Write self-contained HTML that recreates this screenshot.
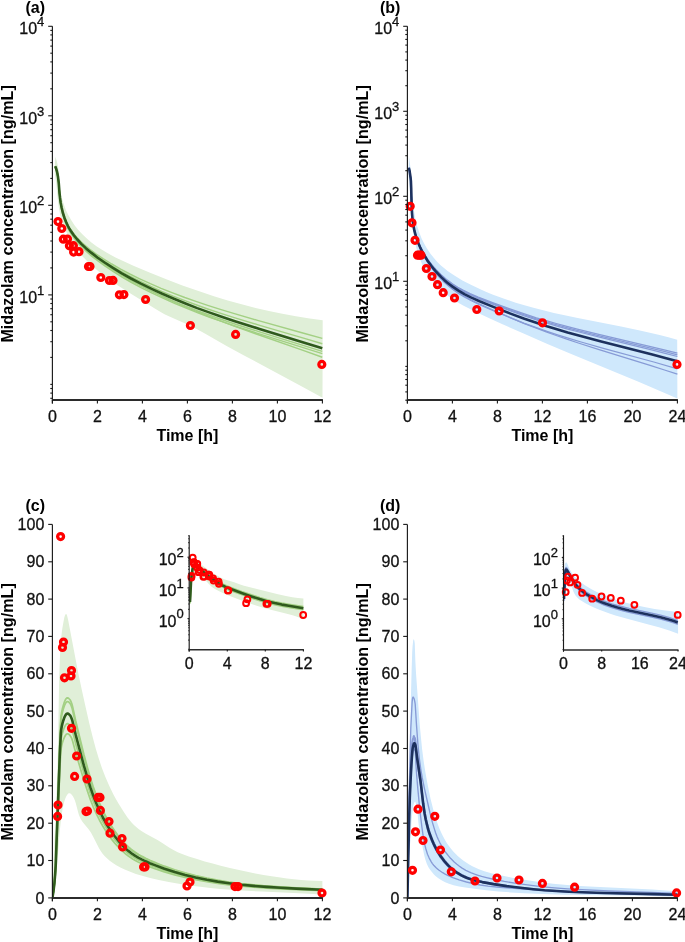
<!DOCTYPE html><html><head><meta charset="utf-8"><style>html,body{margin:0;padding:0;background:#fff;overflow:hidden}svg{display:block;will-change:transform}</style></head><body><svg width="685" height="942" viewBox="0 0 685 942" font-family="'Liberation Sans', sans-serif">
<rect width="685" height="942" fill="#fff"/>
<defs>
<clipPath id="cA"><rect x="52.4" y="6.3" width="272" height="393.7"/></clipPath>
<clipPath id="cB"><rect x="407.4" y="6.3" width="272" height="393.7"/></clipPath>
<clipPath id="cC"><rect x="52.4" y="504.4" width="272" height="393.5"/></clipPath>
<clipPath id="cD"><rect x="407.4" y="504.4" width="272" height="393.5"/></clipPath>
<clipPath id="cCI"><rect x="189.2" y="515.3" width="116.2" height="134.5"/></clipPath>
<clipPath id="cDI"><rect x="563.5" y="515.3" width="116.5" height="134.6"/></clipPath>
</defs>
<g clip-path="url(#cA)">
<path d="M55.1 156.8L56.1 159.1L56.9 161.5L57.5 164L58 166.5L58.6 171.5L59.2 181.8L59.6 186.1L60.2 190.4L61.2 195.5L62.6 200.6L64.2 205.6L66.1 210.4L68.3 215.1L71.3 220.3L74.5 225.2L78.1 229.8L82.1 234.1L86.3 238.1L91.4 242.4L96.8 246.4L103.2 250.6L106.9 252.7L111.4 255.3L116 257.7L121.5 260.3L133.4 265.7L149.5 272.5L166.3 279.3L182.4 285.4L198.5 291.1L213.9 296.2L227.7 300.4L241.6 304.3L255.6 307.9L268.9 311L282.4 313.8L295.9 316.3L309.7 318.5L322.7 320.2L322.5 397.8L301.4 386.3L243.6 355.2L226.6 345.9L205.7 334L197.6 329.6L191.9 326.7L186.9 324.2L168.3 316L165 314.4L161 312.2L154.8 308.5L131.3 294L118.7 286L112.5 281.8L107.2 278L102 274.2L97 270.1L91.4 265.3L86.8 260.8L82.4 256.2L78.3 251.3L74.5 246.1L70.9 240.7L67.8 235.1L65.4 230.1L63.3 225L61.8 220.6L60.5 216.2L59.4 210.7L58.6 206.2L58 201.6L56.1 182.2L55.4 177.6L54.8 174 Z" fill="#e0efd8" />
<path d="M55.2 166L56 167.8L56.8 170.4L57.4 173L58 176.3L58.7 181.7L59.5 192.1L60 197L60.7 201.9L61.6 206.8L62.8 211.5L64.2 216.1L65.9 220.6L67.6 224.2L68.9 226.6L70.3 228.9L73.4 233.2L76.8 237.4L81 241.8L85.6 245.9L90.9 250.2L96.5 254.3L103.4 258.9L111.7 264L120.6 269.1L129.8 274L139.7 278.8L150.3 283.7L161.1 288.3L172.6 292.9L184.8 297.5L195.9 301.4L207.7 305.4L220.3 309.4L233.6 313.4L257.6 320.4L303.7 333.2L322.3 338.4" fill="none" stroke="#a3d084" stroke-width="1.45" stroke-linejoin="round" />
<path d="M55.2 166.1L56 168L56.8 170.6L57.4 173.2L58 176.6L58.7 182L59.5 192.5L60 197.4L60.7 202.3L61.6 207.2L62.8 212L64.2 216.6L65.9 221.1L67.6 224.9L68.9 227.3L70.3 229.6L73.4 234L76.8 238.3L81 242.8L85.6 247L90.9 251.4L97.1 256.1L104 260.8L112.3 266.1L121.2 271.4L130.4 276.4L140.3 281.4L150.9 286.5L161.7 291.3L173.2 296.1L185.5 300.9L196.6 305L208.4 309.2L220.9 313.4L234.2 317.6L258.9 325.1L304.4 338.4L322.3 343.8" fill="none" stroke="#a3d084" stroke-width="1.45" stroke-linejoin="round" />
<path d="M55.2 167.1L56 169L56.8 171.7L57.4 174.4L58 177.8L58.7 183.3L59.5 193.8L60 198.8L60.7 203.8L61.6 208.7L62.9 214.2L64.4 219L66.2 223.5L67.9 227.3L69.2 229.8L70.7 232.1L73.8 236.7L77.3 241.1L81.5 245.7L86.1 250.1L91.5 254.7L97.7 259.5L104.6 264.5L112.9 269.9L121.8 275.4L131 280.7L140.9 285.9L151.6 291.2L162.3 296.2L173.9 301.3L186.1 306.3L197.2 310.7L209.1 315L221.6 319.5L235.6 324.2L260.3 332.1L322.3 351.4" fill="none" stroke="#a3d084" stroke-width="1.45" stroke-linejoin="round" />
<path d="M55.2 167.6L56 169.7L56.8 172.4L57.4 175.1L58 178.5L58.7 184L59.5 194.6L60 199.6L60.7 204.5L61.6 209.5L62.9 215.1L64.4 219.8L66.2 224.5L67.9 228.3L69.2 230.7L70.7 233.1L73.8 237.8L75.5 240L77.7 242.7L82 247.3L86.6 251.7L92 256.4L98.3 261.2L105.2 266.2L113.4 271.7L122.5 277.3L131.6 282.5L141.5 287.8L152.2 293.2L163 298.2L174.5 303.3L186.8 308.4L197.9 312.8L209.7 317.2L222.3 321.6L235.6 326.2L260.9 334.4L322.3 353.6" fill="none" stroke="#a3d084" stroke-width="1.45" stroke-linejoin="round" />
<path d="M55.2 166.3L56 168.2L56.8 170.8L57.4 173.5L58 176.9L58.7 182.4L59.5 192.8L60 197.8L60.7 202.7L61.6 207.6L62.8 212.5L64.2 217.2L65.9 221.8L67.6 225.5L69.9 229.8L73 234.4L76.4 238.8L80.5 243.5L85.1 247.9L90.4 252.6L96 257.1L102.9 262.2L111.1 267.9L119.4 273.2L128.5 278.7L138.4 284.2L149 289.8L159.8 295.2L171.3 300.6L183.5 306L194.6 310.7L206.4 315.5L219 320.4L232.2 325.4L255.6 333.8L302.4 350.1L322.3 357.2" fill="none" stroke="#a3d084" stroke-width="1.45" stroke-linejoin="round" />
<path d="M55.2 166.3L56 168.2L56.8 170.8L57.4 173.5L58 176.8L58.7 182.3L59.5 192.8L60 197.7L60.7 202.7L61.6 207.5L62.9 213L64.4 217.7L66.2 222.3L67.9 226L69.2 228.4L70.7 230.7L73.8 235.2L77.3 239.5L81.5 244.1L86.1 248.4L91.5 252.9L97.7 257.7L104.6 262.5L112.9 267.9L121.8 273.4L131 278.5L140.9 283.7L151.6 288.9L162.3 293.8L173.9 298.8L186.1 303.8L197.2 308.1L209.1 312.4L221.6 316.7L234.9 321.2L259.6 329L305.1 342.9L322.3 348.3" fill="none" stroke="#2f5a1d" stroke-width="2.6" stroke-linejoin="round" />
</g>
<g fill="none" stroke="#ff0000" stroke-width="3.3">
<circle cx="58" cy="221.6" r="2.95"/>
<circle cx="61.8" cy="228.5" r="2.95"/>
<circle cx="63.3" cy="239.2" r="2.95"/>
<circle cx="67.5" cy="239" r="2.95"/>
<circle cx="69.4" cy="245.8" r="2.95"/>
<circle cx="73.4" cy="245.7" r="2.95"/>
<circle cx="73.6" cy="252.1" r="2.95"/>
<circle cx="79" cy="251.7" r="2.95"/>
<circle cx="88.5" cy="266.5" r="2.95"/>
<circle cx="90" cy="266.5" r="2.95"/>
<circle cx="100.8" cy="277.5" r="2.95"/>
<circle cx="109.4" cy="280.5" r="2.95"/>
<circle cx="113" cy="280.4" r="2.95"/>
<circle cx="119.4" cy="294.8" r="2.95"/>
<circle cx="123.9" cy="294.6" r="2.95"/>
<circle cx="145.6" cy="299.5" r="2.95"/>
<circle cx="190.4" cy="325.5" r="2.95"/>
<circle cx="235.6" cy="334.4" r="2.95"/>
<circle cx="321.8" cy="364.4" r="2.95"/>
</g>
<g stroke="#1a1a1a" stroke-width="1.1" fill="none">
<path d="M52.4 26.3 V403.4" stroke-width="1.15"/>
<path d="M51.9 400 H322.9" stroke-width="1.95" stroke="#2b2b2b"/>
<path d="M52.4 400 V403.4"/>
<path d="M97.4 400 V403.4"/>
<path d="M142.4 400 V403.4"/>
<path d="M187.4 400 V403.4"/>
<path d="M232.4 400 V403.4"/>
<path d="M277.4 400 V403.4"/>
<path d="M322.4 400 V403.4"/>
<path d="M50.3 398.3 H52.4"/>
<path d="M50.3 393.1 H52.4"/>
<path d="M50.3 388.5 H52.4"/>
<path d="M50.3 384.4 H52.4"/>
<path d="M50.3 357.4 H52.4"/>
<path d="M50.3 341.7 H52.4"/>
<path d="M50.3 330.5 H52.4"/>
<path d="M50.3 321.8 H52.4"/>
<path d="M50.3 314.7 H52.4"/>
<path d="M50.3 308.7 H52.4"/>
<path d="M50.3 303.5 H52.4"/>
<path d="M50.3 299 H52.4"/>
<path d="M48.2 294.9 H52.4"/>
<path d="M50.3 267.9 H52.4"/>
<path d="M50.3 252.1 H52.4"/>
<path d="M50.3 241 H52.4"/>
<path d="M50.3 232.3 H52.4"/>
<path d="M50.3 225.2 H52.4"/>
<path d="M50.3 219.2 H52.4"/>
<path d="M50.3 214 H52.4"/>
<path d="M50.3 209.4 H52.4"/>
<path d="M48.2 205.3 H52.4"/>
<path d="M50.3 178.4 H52.4"/>
<path d="M50.3 162.6 H52.4"/>
<path d="M50.3 151.4 H52.4"/>
<path d="M50.3 142.7 H52.4"/>
<path d="M50.3 135.7 H52.4"/>
<path d="M50.3 129.7 H52.4"/>
<path d="M50.3 124.5 H52.4"/>
<path d="M50.3 119.9 H52.4"/>
<path d="M48.2 115.8 H52.4"/>
<path d="M50.3 88.8 H52.4"/>
<path d="M50.3 73.1 H52.4"/>
<path d="M50.3 61.9 H52.4"/>
<path d="M50.3 53.2 H52.4"/>
<path d="M50.3 46.1 H52.4"/>
<path d="M50.3 40.1 H52.4"/>
<path d="M50.3 34.9 H52.4"/>
<path d="M50.3 30.4 H52.4"/>
<path d="M48.2 26.3 H52.4"/>
</g>
<g fill="#111" stroke="#111" stroke-width="0.3">
<text x="52.4" y="421.6" font-size="16" font-weight="normal" text-anchor="middle" >0</text>
<text x="97.4" y="421.6" font-size="16" font-weight="normal" text-anchor="middle" >2</text>
<text x="142.4" y="421.6" font-size="16" font-weight="normal" text-anchor="middle" >4</text>
<text x="187.4" y="421.6" font-size="16" font-weight="normal" text-anchor="middle" >6</text>
<text x="232.4" y="421.6" font-size="16" font-weight="normal" text-anchor="middle" >8</text>
<text x="277.4" y="421.6" font-size="16" font-weight="normal" text-anchor="middle" >10</text>
<text x="322.4" y="421.6" font-size="16" font-weight="normal" text-anchor="middle" >12</text>
<text x="44.3" y="302.8" font-size="16" text-anchor="end">10<tspan font-size="13" dy="-8.2">1</tspan></text>
<text x="44.3" y="213.3" font-size="16" text-anchor="end">10<tspan font-size="13" dy="-8.2">2</tspan></text>
<text x="44.3" y="123.7" font-size="16" text-anchor="end">10<tspan font-size="13" dy="-8.2">3</tspan></text>
<text x="44.3" y="34.2" font-size="16" text-anchor="end">10<tspan font-size="13" dy="-8.2">4</tspan></text>
</g>
<g clip-path="url(#cB)">
<path d="M408.9 156.1L409.8 162.2L410.5 168.5L411 175.8L412.3 195.2L412.8 200.8L413.4 206.4L414.2 211.9L415.1 217.4L416.3 222.8L417.5 227.2L419.6 233.3L421.6 238.4L424.1 243.4L426.8 248.2L428.8 251.2L430.3 253.5L433.7 257.8L437.3 261.9L441.2 265.7L444 268.1L447.6 270.9L450.6 273.1L454.4 275.6L458.4 278.1L462.4 280.4L471.4 285.1L481.4 289.8L486.4 292L492.4 294.4L503.5 298.6L515.7 302.7L524.5 305.3L533.4 307.8L543.2 310.3L553.9 312.9L564.7 315.3L576.5 317.8L621 326.5L639.9 330.5L649.8 332.7L659.6 335.1L668.4 337.3L677.2 339.8L677.4 398.5L658.8 390.4L638.5 381.8L571.2 353.9L547.4 343.9L523.6 333.6L502.5 324.3L489.3 318.3L477.1 312.5L470.1 309.1L464.1 306L458.3 302.7L453.5 299.7L448.8 296.4L445.1 293.5L440.1 289.1L437.5 286.5L435.5 284.5L433.1 281.6L431.3 279.4L428.1 274.9L425.1 270.1L423.8 267.6L422.1 264.2L419.9 258.9L417.7 252.6L416.1 247L414.6 240.4L413.3 233.6L412.4 226.8L411.8 220.9L411.3 215.1L409.7 188.2L409.2 181.7L408.6 176.3 Z" fill="#cfe8fc" />
<path d="M408.8 167.5L409.4 169.6L410 173.1L410.5 176.7L410.9 180.3L411.2 187.7L411.7 207.8L412.1 213.7L412.6 219.6L413.5 225.3L414.5 230.3L415.9 235.2L417.5 239.9L418.6 242.6L420.1 245.9L421.7 249.2L423.4 252.4L425.3 255.5L427.2 258.5L429.4 261.5L431.6 264.4L435.9 269.4L438.4 272L441 274.6L443.7 277L446.5 279.4L449.4 281.6L452.3 283.7L457.8 287.3L463.5 290.4L470.1 293.6L478.2 297.1L491.9 302.3L509.8 308.9L523.7 313.7L536.4 317.8L546.2 320.7L556.2 323.5L566.8 326.4L578.3 329.4L599.8 334.6L651.6 346.8L665.2 350.1L677.4 353.2" fill="none" stroke="#879bd6" stroke-width="1.25" stroke-linejoin="round" />
<path d="M408.8 167.6L409.4 169.7L410 173.2L410.5 176.8L410.9 180.4L411.2 187.8L411.7 207.9L412.1 213.8L412.6 219.7L413.5 225.5L414.5 230.5L415.9 235.4L417.5 240.2L418.6 242.9L420.1 246.2L421.7 249.5L423.4 252.7L425.3 255.8L427.2 258.9L429.4 261.9L431.6 264.8L435.9 269.8L438.4 272.5L441 275L443.7 277.5L446.5 279.9L449.4 282.1L452.3 284.3L457.8 287.9L463.5 291.1L470.1 294.3L478.2 297.8L491.9 303.1L509.8 309.8L523.7 314.7L536.4 318.8L546.2 321.8L556.2 324.7L566.8 327.6L579 330.8L600.5 336.1L651.6 348.3L665.2 351.7L677.4 354.9" fill="none" stroke="#879bd6" stroke-width="1.25" stroke-linejoin="round" />
<path d="M408.8 167.7L409.4 169.7L410 173.3L410.5 176.9L410.9 180.5L411.2 187.9L411.7 208.1L412.1 214L412.6 219.9L413.5 225.7L414.5 230.7L415.9 235.6L417.5 240.4L418.6 243.1L420.1 246.5L421.7 249.7L423.4 253L425.3 256.1L427.2 259.2L429.4 262.2L431.6 265.1L435.9 270.2L438.4 272.9L441 275.5L443.7 278L446.5 280.4L449.4 282.7L452.3 284.8L457.8 288.4L463.5 291.7L470.1 295L478.2 298.5L491.9 303.9L509.8 310.7L523.7 315.7L536.4 319.8L546.2 322.9L556.2 325.8L566.8 328.8L579 332L600.5 337.4L651.6 349.8L665.2 353.3L677.4 356.5" fill="none" stroke="#879bd6" stroke-width="1.25" stroke-linejoin="round" />
<path d="M408.8 168.2L409.4 170.4L410 174L410.5 177.7L410.9 181.4L411.2 188.9L411.7 209.1L412.1 215.1L412.6 221L413.5 226.9L414.5 232L415.9 237.1L417.5 242.1L420.1 248.4L421.7 251.8L423.4 255.2L425.3 258.5L427.2 261.8L429.4 264.9L431.6 268L433.9 271.1L436.3 274L438.9 276.8L441.5 279.6L444.2 282.2L447.1 284.7L450 287.2L452.9 289.5L458.5 293.4L464.8 297.2L471.4 300.8L479.5 304.7L493.9 311L510.5 317.9L524.4 323.4L537.8 328.2L547.7 331.6L558.3 335.1L569 338.4L581.1 342L603.4 348.3L653.8 362L677.4 368.8" fill="none" stroke="#879bd6" stroke-width="1.25" stroke-linejoin="round" />
<path d="M408.8 167.9L409.4 170L410 173.6L410.5 177.3L410.9 180.9L411.2 188.4L411.7 208.6L412.1 214.5L412.6 220.4L413.5 226.3L414.5 231.4L415.9 236.4L417.5 241.3L420.1 247.5L421.7 250.9L423.4 254.3L425.3 257.5L427.2 260.8L429.4 263.9L431.6 267L435.9 272.3L438.4 275.2L441 277.9L443.7 280.6L446.5 283.2L449.4 285.6L452.3 288L457.8 291.9L463.5 295.5L470.1 299.2L478.2 303.3L491.9 309.5L509.8 317.4L523.7 323.3L536.4 328.2L546.2 331.9L556.2 335.5L566.8 339.2L578.3 343L599.1 349.6L650.9 365.6L664.5 370L677.4 374.2" fill="none" stroke="#879bd6" stroke-width="1.25" stroke-linejoin="round" />
<path d="M408.8 167.9L409.4 170L410 173.6L410.5 177.2L410.9 180.9L411.2 188.3L411.7 208.5L412.1 214.4L412.6 220.3L413.5 226.1L414.5 231.2L415.9 236.2L417.5 241.1L418.6 243.8L420.1 247.2L421.7 250.6L423.4 253.8L425.3 257L427.2 260.2L429.4 263.3L431.6 266.3L433.9 269.2L436.3 272L438.9 274.7L441.5 277.4L444.2 279.9L447.1 282.4L450 284.7L452.9 286.9L458.5 290.6L464.8 294.3L471.4 297.6L479.5 301.2L493.9 307.1L510.5 313.6L524.4 318.8L537.1 323.1L546.9 326.3L556.9 329.3L567.6 332.5L579.7 335.8L601.2 341.5L652.3 354.5L665.2 357.9L677.4 361.2" fill="none" stroke="#1d315e" stroke-width="2.6" stroke-linejoin="round" />
</g>
<g fill="none" stroke="#ff0000" stroke-width="3.3">
<circle cx="410.2" cy="206.3" r="2.95"/>
<circle cx="412" cy="222.8" r="2.95"/>
<circle cx="415" cy="240.3" r="2.95"/>
<circle cx="417.5" cy="255.2" r="2.95"/>
<circle cx="419.3" cy="255.2" r="2.95"/>
<circle cx="421" cy="255.2" r="2.95"/>
<circle cx="426.3" cy="268.5" r="2.95"/>
<circle cx="432" cy="276.5" r="2.95"/>
<circle cx="437.5" cy="284.7" r="2.95"/>
<circle cx="443.2" cy="292.7" r="2.95"/>
<circle cx="454.5" cy="298" r="2.95"/>
<circle cx="476.8" cy="309.5" r="2.95"/>
<circle cx="499.2" cy="311" r="2.95"/>
<circle cx="542.5" cy="322.8" r="2.95"/>
<circle cx="677" cy="364.4" r="2.95"/>
</g>
<g stroke="#1a1a1a" stroke-width="1.1" fill="none">
<path d="M407.4 26.3 V403.4" stroke-width="1.15"/>
<path d="M406.9 400 H677.9" stroke-width="1.95" stroke="#2b2b2b"/>
<path d="M407.4 400 V403.4"/>
<path d="M452.4 400 V403.4"/>
<path d="M497.4 400 V403.4"/>
<path d="M542.4 400 V403.4"/>
<path d="M587.4 400 V403.4"/>
<path d="M632.4 400 V403.4"/>
<path d="M677.4 400 V403.4"/>
<path d="M405.3 400.2 H407.4"/>
<path d="M405.3 391.9 H407.4"/>
<path d="M405.3 385.2 H407.4"/>
<path d="M405.3 379.5 H407.4"/>
<path d="M405.3 374.6 H407.4"/>
<path d="M405.3 370.2 H407.4"/>
<path d="M405.3 366.4 H407.4"/>
<path d="M405.3 340.8 H407.4"/>
<path d="M405.3 325.8 H407.4"/>
<path d="M405.3 315.2 H407.4"/>
<path d="M405.3 306.9 H407.4"/>
<path d="M405.3 300.2 H407.4"/>
<path d="M405.3 294.5 H407.4"/>
<path d="M405.3 289.6 H407.4"/>
<path d="M405.3 285.2 H407.4"/>
<path d="M403.2 281.3 H407.4"/>
<path d="M405.3 255.7 H407.4"/>
<path d="M405.3 240.8 H407.4"/>
<path d="M405.3 230.1 H407.4"/>
<path d="M405.3 221.9 H407.4"/>
<path d="M405.3 215.2 H407.4"/>
<path d="M405.3 209.5 H407.4"/>
<path d="M405.3 204.5 H407.4"/>
<path d="M405.3 200.2 H407.4"/>
<path d="M403.2 196.3 H407.4"/>
<path d="M405.3 170.7 H407.4"/>
<path d="M405.3 155.7 H407.4"/>
<path d="M405.3 145.1 H407.4"/>
<path d="M405.3 136.9 H407.4"/>
<path d="M405.3 130.1 H407.4"/>
<path d="M405.3 124.5 H407.4"/>
<path d="M405.3 119.5 H407.4"/>
<path d="M405.3 115.2 H407.4"/>
<path d="M403.2 111.3 H407.4"/>
<path d="M405.3 85.7 H407.4"/>
<path d="M405.3 70.7 H407.4"/>
<path d="M405.3 60.1 H407.4"/>
<path d="M405.3 51.9 H407.4"/>
<path d="M405.3 45.1 H407.4"/>
<path d="M405.3 39.4 H407.4"/>
<path d="M405.3 34.5 H407.4"/>
<path d="M405.3 30.2 H407.4"/>
<path d="M403.2 26.3 H407.4"/>
</g>
<g fill="#111" stroke="#111" stroke-width="0.3">
<text x="407.4" y="421.6" font-size="16" font-weight="normal" text-anchor="middle" >0</text>
<text x="452.4" y="421.6" font-size="16" font-weight="normal" text-anchor="middle" >4</text>
<text x="497.4" y="421.6" font-size="16" font-weight="normal" text-anchor="middle" >8</text>
<text x="542.4" y="421.6" font-size="16" font-weight="normal" text-anchor="middle" >12</text>
<text x="587.4" y="421.6" font-size="16" font-weight="normal" text-anchor="middle" >16</text>
<text x="632.4" y="421.6" font-size="16" font-weight="normal" text-anchor="middle" >20</text>
<text x="677.4" y="421.6" font-size="16" font-weight="normal" text-anchor="middle" >24</text>
<text x="399.3" y="289.3" font-size="16" text-anchor="end">10<tspan font-size="13" dy="-8.2">1</tspan></text>
<text x="399.3" y="204.2" font-size="16" text-anchor="end">10<tspan font-size="13" dy="-8.2">2</tspan></text>
<text x="399.3" y="119.2" font-size="16" text-anchor="end">10<tspan font-size="13" dy="-8.2">3</tspan></text>
<text x="399.3" y="34.2" font-size="16" text-anchor="end">10<tspan font-size="13" dy="-8.2">4</tspan></text>
</g>
<g clip-path="url(#cC)">
<path d="M52.4 897.9L53.5 864.8L56.4 796.1L57.5 766.5L58.1 740.5L59.1 681.3L59.6 665.8L60 655.1L60.4 648L60.9 641L61.6 634L62.4 628.1L63.4 622.3L64.3 617.5L65.1 615.1L65.6 614.2L66.1 613.9L66.7 614.6L67.1 615.8L68 619.3L74.9 655.4L78 671.7L81.9 690.2L85.7 707.6L89.4 723.8L92.8 737.6L95.6 747.9L98.6 758.1L102 768.2L105.4 777L109.2 785.7L113.3 794.2L115.6 798.4L118.5 803.5L123.5 811.6L127.5 817.5L129.7 820.3L132 822.9L134.5 825.5L137.1 827.8L138.9 829.3L141.8 831.3L145.9 833.8L157.5 840.1L161.5 842.6L169.5 847.7L173.5 850.1L177.7 852.3L182.1 854.1L188.8 856.5L197.9 859.3L204.7 861.4L212.7 863.6L220.7 865.7L229.9 867.9L239.1 870.1L247.2 871.8L255.3 873.4L263.5 874.9L271.7 876.3L278.7 877.3L286.9 878.4L294 879.2L301.1 879.9L308.2 880.4L315.3 880.8L322.4 881L322.4 894.4L304.1 893.5L262.2 891.6L242.6 890.5L231.2 889.7L220.4 888.9L210.3 887.9L200.3 886.8L189.5 885.4L178.8 883.8L168.8 882.1L158.8 880.1L150.2 878.1L143 876.1L135.9 873.9L129.6 871.5L124.7 869.4L120.4 867.4L116.3 865.2L112.9 863.1L109.7 860.7L107.2 858.6L104.8 856.3L102.6 853.7L100.7 850.9L98.9 848L93.2 836.7L90.9 832.5L88.6 829.2L82.8 822.2L81 819.5L79.8 817.1L78.8 814.5L78 811.7L75.8 803.2L74.9 800.5L74.1 798.6L72.9 796.3L72.1 795.3L71.3 794.3L70.4 793.6L69.9 793.3L69.5 793.2L69 793.2L68.2 793.6L67.4 794.4L66.3 796.3L65.3 798.5L64.3 801.4L63.6 804.2L63 806.8L62.4 810.1L60.9 820.6L59.8 830.7L59 840.2L57.3 863.1L56.1 875.2L55.4 881.3L54.5 887.3L53.5 892.6L52.4 897.9 Z" fill="#e0efd8" />
<path d="M52.4 897.9L53.5 890.4L54.4 882.1L55.1 872.9L55.7 862.9L59.8 742.1L60.5 726.2L60.8 719.6L61.2 715.4L61.7 712.1L62.4 708.8L63.3 705.4L64.4 702L65.5 699.6L66.3 698.5L66.7 698.1L67.2 697.9L67.7 697.9L68.3 698.1L68.8 698.5L69.8 699.5L70.3 700.2L71 701.6L71.9 704L72.6 706.7L75.6 720.5L78.3 731.6L83.9 754.5L87.6 768.3L90.4 778L93.2 786.8L96.4 795.4L99.5 803.1L102.9 810.6L106.6 817.9L110.7 824.9L114.8 831.1L119.1 836.9L121.7 840L123.9 842.4L126.1 844.7L128.4 846.9L130.8 849L132.7 850.4L135.3 852.3L138.6 854.4L142.1 856.4L145.6 858.2L149.8 860.2L154.2 862.1L159.3 864.2L164.4 866.2L174.7 869.8L185.1 872.9L195.6 875.7L206.9 878.2L217.6 880.2L229 882L241.3 883.6L253.6 884.9L266.8 886L280.7 886.9L296.2 887.8L322.4 889.1" fill="none" stroke="#a3d084" stroke-width="1.75" stroke-linejoin="round" />
<path d="M52.4 897.9L53.5 890.6L54.4 882.4L55.1 873.4L55.7 863.5L59.8 745L60.5 729.4L60.8 722.9L61.2 718.8L61.7 715.5L62.4 712.2L63.3 708.9L64.4 705.6L65.5 703.3L66.3 702.2L66.7 701.8L67.2 701.6L67.7 701.6L68.3 701.8L68.8 702.1L69.8 703.2L70.3 703.8L71 705.2L71.9 707.6L72.6 710.2L75.6 723.7L78.3 734.6L83.9 757.1L87.6 770.7L90.4 780.2L93.2 788.9L96.4 797.3L99.5 804.9L102.9 812.2L106.6 819.4L110.7 826.3L114.8 832.3L119.1 838L121.7 841.1L123.9 843.5L126.1 845.7L128.4 847.9L130.8 849.9L132.7 851.3L135.3 853.1L138.6 855.2L142.1 857.1L145.6 858.9L149.8 860.9L154.2 862.8L159.3 864.8L164.4 866.8L174.7 870.3L185.1 873.4L195.6 876.1L206.9 878.6L217.6 880.5L229 882.3L241.3 883.9L253.6 885.1L266.8 886.2L280.7 887.1L296.2 888L322.4 889.2" fill="none" stroke="#a3d084" stroke-width="1.75" stroke-linejoin="round" />
<path d="M52.4 897.9L53.5 891.4L54.4 884.1L55.1 876.1L55.7 867.4L59.8 762.2L60.5 748.4L60.8 742.6L61.2 739L61.7 736.1L62.4 733.2L63.3 730.2L64.4 727.3L65.5 725.2L66.3 724.2L66.7 723.9L67.2 723.7L67.7 723.7L68.3 723.9L68.8 724.2L69.8 725.1L70.3 725.7L71 726.9L71.9 729L72.6 731.4L75.6 743.4L78.3 753L83.9 773L87.6 785L90.4 793.5L93.2 801.1L96.4 808.7L99.5 815.3L102.9 821.9L106.6 828.2L110.7 834.4L114.8 839.7L119.1 844.8L121.7 847.5L123.9 849.6L126.1 851.6L128.4 853.5L132.7 856.6L135.3 858.2L138.6 860L142.1 861.7L145.6 863.3L149.8 865.1L154.2 866.7L164.4 870.3L174.7 873.4L185.1 876.2L195.6 878.5L206.9 880.7L217.6 882.5L229 884.1L241.3 885.4L253.6 886.6L266.8 887.5L280.7 888.4L322.4 890.2" fill="none" stroke="#a3d084" stroke-width="1.75" stroke-linejoin="round" />
<path d="M52.4 897.9L53.5 891.8L54.4 884.9L55.1 877.4L55.7 869.2L59.8 770.1L60.5 757.1L60.8 751.6L61.2 748.2L61.7 745.5L62.4 742.7L63.3 740L64.4 737.2L65.5 735.3L66.3 734.3L66.7 734L67.2 733.9L67.7 733.8L68.3 734L68.8 734.3L69.8 735.2L71 736.9L71.9 738.9L72.6 741L75.6 752.4L78.3 761.5L83.9 780.3L87.6 791.6L90.4 799.6L93.2 806.8L96.4 813.9L99.5 820.2L102.9 826.3L106.6 832.3L110.7 838.1L114.8 843.1L119.1 847.9L121.7 850.4L123.9 852.4L126.1 854.3L128.4 856.1L132.7 859L135.3 860.5L138.6 862.2L142.1 863.8L145.6 865.3L154.2 868.5L164.4 871.9L174.7 874.8L185.1 877.4L195.6 879.7L206.9 881.7L217.6 883.4L229 884.9L241.3 886.2L253.6 887.2L266.8 888.1L280.7 888.9L322.4 890.6" fill="none" stroke="#a3d084" stroke-width="1.75" stroke-linejoin="round" />
<path d="M52.4 897.9L53.5 891L54.4 883.3L55.1 874.9L55.7 865.6L59.8 754.3L60.5 739.7L60.8 733.6L61.2 729.7L61.7 726.7L62.4 723.6L63.3 720.5L64.4 717.3L65.5 715.2L66.3 714.1L66.7 713.8L67.2 713.6L67.7 713.6L68.3 713.8L68.8 714.1L69.8 715.1L70.3 715.6L71 717L71.9 719.2L72.6 721.7L75.6 734.4L78.3 744.6L83.9 765.7L87.6 778.4L90.4 787.4L93.2 795.5L96.4 803.5L99.5 810.5L102.9 817.5L106.6 824.2L110.7 830.7L114.8 836.3L119.1 841.7L121.7 844.6L123.9 846.8L126.1 848.9L128.4 850.9L132.7 854.2L135.3 855.9L138.6 857.8L142.1 859.6L145.6 861.3L149.8 863.2L154.2 864.9L164.4 868.7L174.7 872L185.1 874.9L195.6 877.4L206.9 879.7L217.6 881.6L229 883.2L241.3 884.7L253.6 885.9L266.8 886.9L280.7 887.8L296.2 888.6L322.4 889.8" fill="none" stroke="#2f5a1d" stroke-width="2.6" stroke-linejoin="round" />
</g>
<g fill="none" stroke="#ff0000" stroke-width="3.3">
<circle cx="60.6" cy="536.6" r="2.95"/>
<circle cx="63.5" cy="642" r="2.95"/>
<circle cx="62.5" cy="647.5" r="2.95"/>
<circle cx="71.5" cy="670.5" r="2.95"/>
<circle cx="71" cy="676" r="2.95"/>
<circle cx="64.5" cy="677.8" r="2.95"/>
<circle cx="71.5" cy="728.3" r="2.95"/>
<circle cx="76.6" cy="756" r="2.95"/>
<circle cx="74.6" cy="776.4" r="2.95"/>
<circle cx="87" cy="779" r="2.95"/>
<circle cx="98" cy="797.4" r="2.95"/>
<circle cx="100" cy="797.4" r="2.95"/>
<circle cx="58" cy="805" r="2.95"/>
<circle cx="57.6" cy="816.4" r="2.95"/>
<circle cx="86" cy="811.6" r="2.95"/>
<circle cx="87.5" cy="811" r="2.95"/>
<circle cx="100.4" cy="810.4" r="2.95"/>
<circle cx="109" cy="821.6" r="2.95"/>
<circle cx="110" cy="833.2" r="2.95"/>
<circle cx="122" cy="838.6" r="2.95"/>
<circle cx="122.6" cy="847" r="2.95"/>
<circle cx="143.6" cy="866.9" r="2.95"/>
<circle cx="145" cy="866.9" r="2.95"/>
<circle cx="190" cy="882" r="2.95"/>
<circle cx="187" cy="886" r="2.95"/>
<circle cx="235" cy="886.6" r="2.95"/>
<circle cx="238" cy="886.6" r="2.95"/>
<circle cx="322" cy="893" r="2.95"/>
</g>
<g stroke="#1a1a1a" stroke-width="1.1" fill="none">
<path d="M52.4 524.4 V901.3" stroke-width="1.15"/>
<path d="M51.9 897.9 H322.9" stroke-width="1.95" stroke="#2b2b2b"/>
<path d="M52.4 897.9 V901.3"/>
<path d="M97.4 897.9 V901.3"/>
<path d="M142.4 897.9 V901.3"/>
<path d="M187.4 897.9 V901.3"/>
<path d="M232.4 897.9 V901.3"/>
<path d="M277.4 897.9 V901.3"/>
<path d="M322.4 897.9 V901.3"/>
<path d="M48.2 897.9 H52.4"/>
<path d="M48.2 860.5 H52.4"/>
<path d="M48.2 823.2 H52.4"/>
<path d="M48.2 785.8 H52.4"/>
<path d="M48.2 748.5 H52.4"/>
<path d="M48.2 711.1 H52.4"/>
<path d="M48.2 673.8 H52.4"/>
<path d="M48.2 636.4 H52.4"/>
<path d="M48.2 599.1 H52.4"/>
<path d="M48.2 561.8 H52.4"/>
<path d="M48.2 524.4 H52.4"/>
</g>
<g fill="#111" stroke="#111" stroke-width="0.3">
<text x="52.4" y="919.5" font-size="16" font-weight="normal" text-anchor="middle" >0</text>
<text x="97.4" y="919.5" font-size="16" font-weight="normal" text-anchor="middle" >2</text>
<text x="142.4" y="919.5" font-size="16" font-weight="normal" text-anchor="middle" >4</text>
<text x="187.4" y="919.5" font-size="16" font-weight="normal" text-anchor="middle" >6</text>
<text x="232.4" y="919.5" font-size="16" font-weight="normal" text-anchor="middle" >8</text>
<text x="277.4" y="919.5" font-size="16" font-weight="normal" text-anchor="middle" >10</text>
<text x="322.4" y="919.5" font-size="16" font-weight="normal" text-anchor="middle" >12</text>
<text x="44.3" y="903.5" font-size="16" font-weight="normal" text-anchor="end" >0</text>
<text x="44.3" y="866.1" font-size="16" font-weight="normal" text-anchor="end" >10</text>
<text x="44.3" y="828.8" font-size="16" font-weight="normal" text-anchor="end" >20</text>
<text x="44.3" y="791.4" font-size="16" font-weight="normal" text-anchor="end" >30</text>
<text x="44.3" y="754.1" font-size="16" font-weight="normal" text-anchor="end" >40</text>
<text x="44.3" y="716.8" font-size="16" font-weight="normal" text-anchor="end" >50</text>
<text x="44.3" y="679.4" font-size="16" font-weight="normal" text-anchor="end" >60</text>
<text x="44.3" y="642" font-size="16" font-weight="normal" text-anchor="end" >70</text>
<text x="44.3" y="604.7" font-size="16" font-weight="normal" text-anchor="end" >80</text>
<text x="44.3" y="567.4" font-size="16" font-weight="normal" text-anchor="end" >90</text>
<text x="44.3" y="530" font-size="16" font-weight="normal" text-anchor="end" >100</text>
</g>
<g clip-path="url(#cCI)">
<path d="M191.1 572.8L192 565L192.4 563L192.8 562.2L193.5 561.5L194.4 561L194.8 560.9L195.2 560.9L196.5 561.5L199.5 563.5L203.2 566.1L208.8 570.3L212.6 572.9L216.4 575.1L221 577.7L223.6 578.9L225.8 579.8L234.1 582.2L240.9 584.8L244 585.8L278 594.3L285.9 596.1L292.4 597.3L297.9 598L303.4 598.5L303.4 619.5L301.1 618.4L298.5 617.3L295.7 616.3L292.5 615.3L286.8 613.8L268.8 609.3L262.3 607.4L256 605.5L249.2 603.2L241.5 600.5L233.1 597.3L227.3 595L222.9 593L218.7 591L215.5 589.3L213 587.7L211.4 586.5L210.1 585.3L207 581.9L205.8 580.7L204.5 579.8L202.1 578.5L201.2 577.9L200.4 577.2L199.3 575.7L198.7 575.1L198 574.6L197 574.2L196.4 574.2L195.9 574.2L195.4 574.4L194.8 574.8L194.2 575.2L193.8 575.8L193.1 577.3L192.5 579.3L192 581.8L191.1 590.5 Z" fill="#e0efd8" />
<path d="M190 600.4L191.1 579L191.6 574.3L192.3 568.9L192.7 566.9L193.1 566.1L193.6 565.7L194.4 565.3L195.1 565.1L195.7 565.1L196.9 565.3L197.7 565.7L201.2 568.4L206.1 572.6L209.3 575.1L213.2 578L217.6 581.1L220.6 582.9L223.2 584.3L226 585.5L229.5 587L241.6 591.5L251.4 594.9L259.7 597.6L267.5 599.8L274.6 601.6L281.8 603.1L288.7 604.3L303.4 606.7" fill="none" stroke="#a3d084" stroke-width="1.75" stroke-linejoin="round" />
<path d="M190 603.5L191.1 582.1L191.6 577.3L192.3 572L192.7 569.9L193.1 569.2L193.6 568.8L194.4 568.4L195.1 568.2L195.7 568.2L196.9 568.4L197.7 568.8L201.2 571.5L206.1 575.7L209.3 578.2L213.2 581.1L217.6 584.1L220.6 586L223.2 587.3L226 588.6L229.5 590.1L241.6 594.5L251.4 598L259.7 600.7L267.5 602.9L274.6 604.7L281.8 606.2L288.7 607.4L303.4 609.7" fill="none" stroke="#a3d084" stroke-width="1.75" stroke-linejoin="round" />
<path d="M190 602L191.1 580.6L191.6 575.8L192.3 570.5L192.7 568.4L193.1 567.7L193.6 567.2L194.4 566.8L195.1 566.7L195.7 566.6L196.9 566.8L197.7 567.2L201.2 569.9L206.1 574.2L209.3 576.7L213.2 579.6L217.6 582.6L220.6 584.4L223.2 585.8L226 587.1L229.5 588.5L241.6 593L251.4 596.4L259.7 599.1L267.5 601.4L274.6 603.1L281.8 604.6L288.7 605.8L303.4 608.2" fill="none" stroke="#2f5a1d" stroke-width="2.6" stroke-linejoin="round" />
</g>
<g fill="none" stroke="#ff0000" stroke-width="2.0">
<circle cx="192.7" cy="557.6" r="2.9"/>
<circle cx="193.9" cy="562.2" r="2.9"/>
<circle cx="193.5" cy="562.5" r="2.9"/>
<circle cx="197.3" cy="563.8" r="2.9"/>
<circle cx="197.1" cy="564.1" r="2.9"/>
<circle cx="194.3" cy="564.3" r="2.9"/>
<circle cx="197.3" cy="567.7" r="2.9"/>
<circle cx="199.4" cy="570.1" r="2.9"/>
<circle cx="198.6" cy="572.2" r="2.9"/>
<circle cx="203.8" cy="572.5" r="2.9"/>
<circle cx="208.5" cy="574.7" r="2.9"/>
<circle cx="209.3" cy="574.7" r="2.9"/>
<circle cx="191.6" cy="575.8" r="2.9"/>
<circle cx="191.4" cy="577.5" r="2.9"/>
<circle cx="203.4" cy="576.7" r="2.9"/>
<circle cx="204" cy="576.6" r="2.9"/>
<circle cx="209.5" cy="576.5" r="2.9"/>
<circle cx="213.1" cy="578.4" r="2.9"/>
<circle cx="213.6" cy="580.6" r="2.9"/>
<circle cx="218.6" cy="581.7" r="2.9"/>
<circle cx="218.9" cy="583.8" r="2.9"/>
<circle cx="227.8" cy="590.4" r="2.9"/>
<circle cx="228.4" cy="590.4" r="2.9"/>
<circle cx="247.4" cy="599.3" r="2.9"/>
<circle cx="246.1" cy="603.2" r="2.9"/>
<circle cx="266.4" cy="603.8" r="2.9"/>
<circle cx="267.7" cy="603.8" r="2.9"/>
<circle cx="303.2" cy="615" r="2.9"/>
</g>
<g stroke="#1a1a1a" stroke-width="1.1" fill="none">
<path d="M189.2 535.3 V651.5" stroke-width="1.15"/>
<path d="M188.7 649.8 H303.9" stroke-width="1.5" stroke="#2b2b2b"/>
<path d="M189.2 649.8 V651.5"/>
<path d="M227.3 649.8 V651.5"/>
<path d="M265.3 649.8 V651.5"/>
<path d="M303.4 649.8 V651.5"/>
<path d="M188.3 649.3 H189.2"/>
<path d="M188.3 640.1 H189.2"/>
<path d="M188.3 634.7 H189.2"/>
<path d="M188.3 630.8 H189.2"/>
<path d="M188.3 627.8 H189.2"/>
<path d="M188.3 625.4 H189.2"/>
<path d="M188.3 623.4 H189.2"/>
<path d="M188.3 621.6 H189.2"/>
<path d="M188.3 620 H189.2"/>
<path d="M187.5 618.6 H189.2"/>
<path d="M188.3 609.4 H189.2"/>
<path d="M188.3 604 H189.2"/>
<path d="M188.3 600.1 H189.2"/>
<path d="M188.3 597.1 H189.2"/>
<path d="M188.3 594.7 H189.2"/>
<path d="M188.3 592.7 H189.2"/>
<path d="M188.3 590.9 H189.2"/>
<path d="M188.3 589.3 H189.2"/>
<path d="M187.5 587.9 H189.2"/>
<path d="M188.3 578.7 H189.2"/>
<path d="M188.3 573.3 H189.2"/>
<path d="M188.3 569.4 H189.2"/>
<path d="M188.3 566.4 H189.2"/>
<path d="M188.3 564 H189.2"/>
<path d="M188.3 562 H189.2"/>
<path d="M188.3 560.2 H189.2"/>
<path d="M188.3 558.6 H189.2"/>
<path d="M187.5 557.2 H189.2"/>
<path d="M188.3 548 H189.2"/>
<path d="M188.3 542.6 H189.2"/>
<path d="M188.3 538.7 H189.2"/>
<path d="M188.3 535.7 H189.2"/>
</g>
<g fill="#111" stroke="#111" stroke-width="0.3">
<text x="189.2" y="669.2" font-size="16" font-weight="normal" text-anchor="middle" >0</text>
<text x="227.3" y="669.2" font-size="16" font-weight="normal" text-anchor="middle" >4</text>
<text x="265.3" y="669.2" font-size="16" font-weight="normal" text-anchor="middle" >8</text>
<text x="303.4" y="669.2" font-size="16" font-weight="normal" text-anchor="middle" >12</text>
<text x="183.7" y="626.5" font-size="16" text-anchor="end">10<tspan font-size="13" dy="-8.2">0</tspan></text>
<text x="183.7" y="595.8" font-size="16" text-anchor="end">10<tspan font-size="13" dy="-8.2">1</tspan></text>
<text x="183.7" y="565.1" font-size="16" text-anchor="end">10<tspan font-size="13" dy="-8.2">2</tspan></text>
</g>
<g clip-path="url(#cD)">
<path d="M407.4 897.6L408.3 850.2L409.9 744.6L410.9 697.2L411.6 671.1L412.2 652.1L412.6 646.1L413.1 641.2L413.3 640.1L413.5 639.4L413.8 639.3L414.1 639.8L414.3 640.6L414.5 641.5L414.8 643.8L415.3 659.7L416 672.9L419.6 722.9L420.8 736.1L422.1 749.1L423.6 760.8L425.6 773.5L427.7 785L430.6 798.9L433.5 810.6L434.8 815.2L436.2 819.8L437.8 824.3L439.5 828.8L441.4 833.1L443 836.3L445.3 840.4L447.1 843.4L449.1 846.3L451.2 849.1L453.5 851.8L456 854.3L457.7 855.9L460.4 858.3L463.2 860.5L466.2 862.5L469.2 864.5L472.4 866.2L475.6 867.8L478.9 869.3L484.4 871.3L491.2 873.2L500.4 875.3L512 877.7L526 880.1L539 882.1L553.1 883.7L567.3 885L580.3 886L594.5 886.8L652.6 889.6L665.6 890.4L677.4 891.3L677.4 896.7L661.2 896.2L643.6 895.8L584.6 895.1L563.6 894.7L542.5 894L523.6 893.2L510.9 892.4L498.3 891.4L486.4 890.2L474.5 888.8L465.3 887.6L459.1 886.6L453.6 885.3L449 883.8L445.2 882.3L441.5 880.3L438 878L435.2 875.7L433.7 874.2L432.3 872.6L430.1 869.8L428.3 866.9L426.8 863.7L425.4 859.8L424.3 855.7L421.3 840.4L419.9 832.7L418.9 826.5L418.3 821.7L417.5 812.7L416.9 808.4L416.4 805.4L415.8 803.2L415.4 802L415.1 801.7L414.9 801.7L414.6 801.9L414.3 802.4L413.8 803.7L413.4 805.2L412.9 807.4L412.6 810.3L411.5 821.4L410.4 840.4L408.9 856.5L408.4 862.8L408.2 870.5L407.9 888.8L407.4 897.9 Z" fill="#cfe8fc" />
<path d="M407.4 897.6L409.2 814.1L409.8 794L410.5 777.1L411.4 759.3L412.3 745.4L412.7 742.2L413.2 739.7L413.8 737.6L414.1 737.2L414.3 737L414.6 737.2L415.1 738L415.5 739.3L415.7 740.8L417.1 752.2L420.6 776.6L423.2 800.1L424.6 810L425.7 816.1L426.9 821.4L428.2 826.7L429.6 831.2L432.1 837.9L433.6 841.5L434.9 844.4L436.7 847.9L438.2 850.6L440.2 853.9L442 856.4L444.2 859.5L446.1 861.8L448.1 864.1L450.2 866.2L452.4 868.2L454.7 870L457 871.7L459.5 873.3L461.4 874.4L463.9 875.7L466.6 876.9L469.4 877.9L475 879.7L482.3 881.4L493.5 883.5L506.8 885.7L520.2 887.4L533.5 888.9L544.6 889.9L556.4 890.7L569 891.5L582.3 892.1L603.8 892.8L654.3 893.9L677.5 894.6" fill="none" stroke="#879bd6" stroke-width="1.35" stroke-linejoin="round" />
<path d="M407.4 897.6L409.2 820.6L409.8 802L410.5 786.4L411.4 770L412.3 757.2L412.7 754.2L413.2 751.9L413.8 749.9L414.1 749.6L414.3 749.4L414.6 749.5L415.1 750.3L415.5 751.5L415.7 752.9L417.1 763.4L420.6 786L423.2 807.6L424.6 816.7L425.7 822.3L426.9 827.3L428.2 832.1L429.6 836.3L432.1 842.5L434.9 848.5L436.7 851.7L438.2 854.2L440.2 857.3L442 859.6L444.2 862.5L446.1 864.6L448.1 866.7L450.2 868.6L452.4 870.4L454.7 872.2L457 873.7L459.5 875.2L463.9 877.4L466.6 878.5L469.4 879.4L475 881.1L482.3 882.7L493.5 884.6L506.8 886.6L520.2 888.2L533.5 889.6L544.6 890.5L556.4 891.3L569 892L582.3 892.5L603.8 893.2L654.3 894.2L677.5 894.9" fill="none" stroke="#879bd6" stroke-width="1.35" stroke-linejoin="round" />
<path d="M407.4 897.9L408 869L409.1 796.6L410.3 745.4L410.8 728.6L412.1 702.5L412.4 699.4L412.6 698.2L412.8 697.4L413.1 697.1L413.5 697.4L413.9 698.3L414.3 699.3L414.8 701.6L415.2 704.1L416.5 725.1L418 745.2L419.3 758.5L420.8 769.4L422.2 777.7L424.4 788.3L430 813L432.4 822.4L434.5 829.4L435.6 832.8L436.9 836.2L438.3 839.5L439.9 842.8L442.9 848L444.8 851.1L446.2 853L448.5 855.9L450 857.7L452.5 860.3L454.2 862L456.9 864.3L458.8 865.8L461.7 867.9L463.8 869.1L465.8 870.3L469.1 871.9L471.3 872.9L474.7 874.2L478.1 875.3L481.7 876.4L486.4 877.6L492.4 879L504.3 881.4L516.2 883.4L529.3 885.2L541.2 886.6L554.4 887.8L567.6 888.8L582 889.7L608.6 891L658.2 892.7L677.4 893.4" fill="none" stroke="#879bd6" stroke-width="1.35" stroke-linejoin="round" />
<path d="M407.4 897.9L408 871.7L409 808.4L409.4 791L410 775.7L410.8 758.3L411.7 744.1L412 741.9L412.4 739.7L413.1 737.4L413.4 736.3L413.8 735.6L414.1 735.6L414.3 736.3L414.5 737.4L415.2 750.2L416 765.3L416.5 773L417.5 785.1L419.2 803.4L420.6 816.3L421.9 827.1L423.3 837L424.5 843.6L425.9 849L427.5 854.2L429.2 858.1L431.3 861.8L432.4 863.6L433.7 865.2L435.9 867.5L437.5 868.9L439.1 870.3L442.7 872.7L444.7 873.8L447.6 875.3L452.8 877.6L459.1 879.8L466.5 882L472.9 883.5L480.3 885L487.9 886.1L496.5 887L510.6 888.2L531.2 889.6L550.8 890.8L572.6 891.8L594.5 892.8L617.4 893.6L677.4 895.3" fill="none" stroke="#879bd6" stroke-width="1.35" stroke-linejoin="round" />
<path d="M407.4 897.6L409.2 817.4L409.8 798L410.5 781.7L411.4 764.6L412.3 751.3L412.7 748.2L413.2 745.8L413.8 743.8L414.1 743.4L414.3 743.2L414.6 743.3L415.1 744.2L415.5 745.4L415.7 746.9L417.1 757.8L420.6 781.3L423.2 803.8L424.6 813.3L425.7 819.2L426.9 824.3L428.2 829.4L429.6 833.8L432.1 840.2L433.6 843.7L434.9 846.4L436.7 849.8L438.2 852.4L440.2 855.6L442 858L444.2 861L446.1 863.2L448.1 865.4L450.2 867.4L452.4 869.3L454.7 871.1L457 872.7L459.5 874.2L461.4 875.3L463.9 876.5L466.6 877.7L469.4 878.7L475 880.4L482.3 882.1L493.5 884.1L506.8 886.1L520.2 887.8L533.5 889.2L544.6 890.2L556.4 891L569 891.7L582.3 892.3L603.8 893L654.3 894.1L677.5 894.8" fill="none" stroke="#1d315e" stroke-width="2.6" stroke-linejoin="round" />
</g>
<g fill="none" stroke="#ff0000" stroke-width="3.3">
<circle cx="418" cy="809.2" r="2.95"/>
<circle cx="434.8" cy="816.3" r="2.95"/>
<circle cx="415.5" cy="831.8" r="2.95"/>
<circle cx="423" cy="840.5" r="2.95"/>
<circle cx="440.5" cy="850" r="2.95"/>
<circle cx="412.5" cy="870.3" r="2.95"/>
<circle cx="451.3" cy="871.8" r="2.95"/>
<circle cx="475" cy="881" r="2.95"/>
<circle cx="497" cy="878" r="2.95"/>
<circle cx="519" cy="880" r="2.95"/>
<circle cx="542.4" cy="883.4" r="2.95"/>
<circle cx="574.6" cy="887.2" r="2.95"/>
<circle cx="676.6" cy="892.9" r="2.95"/>
</g>
<g stroke="#1a1a1a" stroke-width="1.1" fill="none">
<path d="M407.4 524.4 V901.3" stroke-width="1.15"/>
<path d="M406.9 897.9 H677.9" stroke-width="1.95" stroke="#2b2b2b"/>
<path d="M407.4 897.9 V901.3"/>
<path d="M452.4 897.9 V901.3"/>
<path d="M497.4 897.9 V901.3"/>
<path d="M542.4 897.9 V901.3"/>
<path d="M587.4 897.9 V901.3"/>
<path d="M632.4 897.9 V901.3"/>
<path d="M677.4 897.9 V901.3"/>
<path d="M403.2 897.9 H407.4"/>
<path d="M403.2 860.5 H407.4"/>
<path d="M403.2 823.2 H407.4"/>
<path d="M403.2 785.8 H407.4"/>
<path d="M403.2 748.5 H407.4"/>
<path d="M403.2 711.1 H407.4"/>
<path d="M403.2 673.8 H407.4"/>
<path d="M403.2 636.4 H407.4"/>
<path d="M403.2 599.1 H407.4"/>
<path d="M403.2 561.8 H407.4"/>
<path d="M403.2 524.4 H407.4"/>
</g>
<g fill="#111" stroke="#111" stroke-width="0.3">
<text x="407.4" y="919.5" font-size="16" font-weight="normal" text-anchor="middle" >0</text>
<text x="452.4" y="919.5" font-size="16" font-weight="normal" text-anchor="middle" >4</text>
<text x="497.4" y="919.5" font-size="16" font-weight="normal" text-anchor="middle" >8</text>
<text x="542.4" y="919.5" font-size="16" font-weight="normal" text-anchor="middle" >12</text>
<text x="587.4" y="919.5" font-size="16" font-weight="normal" text-anchor="middle" >16</text>
<text x="632.4" y="919.5" font-size="16" font-weight="normal" text-anchor="middle" >20</text>
<text x="677.4" y="919.5" font-size="16" font-weight="normal" text-anchor="middle" >24</text>
<text x="399.3" y="903.5" font-size="16" font-weight="normal" text-anchor="end" >0</text>
<text x="399.3" y="866.1" font-size="16" font-weight="normal" text-anchor="end" >10</text>
<text x="399.3" y="828.8" font-size="16" font-weight="normal" text-anchor="end" >20</text>
<text x="399.3" y="791.4" font-size="16" font-weight="normal" text-anchor="end" >30</text>
<text x="399.3" y="754.1" font-size="16" font-weight="normal" text-anchor="end" >40</text>
<text x="399.3" y="716.8" font-size="16" font-weight="normal" text-anchor="end" >50</text>
<text x="399.3" y="679.4" font-size="16" font-weight="normal" text-anchor="end" >60</text>
<text x="399.3" y="642" font-size="16" font-weight="normal" text-anchor="end" >70</text>
<text x="399.3" y="604.7" font-size="16" font-weight="normal" text-anchor="end" >80</text>
<text x="399.3" y="567.4" font-size="16" font-weight="normal" text-anchor="end" >90</text>
<text x="399.3" y="530" font-size="16" font-weight="normal" text-anchor="end" >100</text>
</g>
<g clip-path="url(#cDI)">
<path d="M564 590L565 590.8L565.3 591L565.8 591L566 590.9L566.3 590.6L566.5 590L566.6 589.2L566.7 587.6L566.5 585L565 572.6L564.7 568L564.8 565.4L565 563.9L565.5 562.8L566 562.4L566.2 562.4L566.5 562.4L567 563L569.5 568.9L570.5 570.8L571.9 573L573.1 574.7L574.8 576.7L576.2 578.2L578.1 580L580 581.7L582.5 583.6L585.2 585.4L587.8 587L591.1 588.9L594.8 590.9L601.9 594.2L609.6 597.4L617.5 600.2L626 602.8L635.1 605.1L644.3 607.1L654.6 608.9L665.5 610.5L678 611.9L678.1 633.8L669.3 630.6L658.9 627.3L649.4 624.7L626.3 618.6L615.4 615.5L609.5 613.5L604.1 611.6L599.3 609.8L594.5 607.7L589.7 605.5L585 603L581.8 601.1L579.3 599.4L577.8 598L576.4 596.6L575.5 595.4L574.5 593.8L573.6 592L572.9 590.1L570.3 582.9L569.1 579.6L568.6 578.7L568.1 578L567.7 577.6L567.4 577.6L567 577.9L566.4 579L565.7 581.1L565.3 583.2L565 586.9L565 593.9L564.9 596.5L564.6 599L564.2 601 Z" fill="#cfe8fc" />
<path d="M564 597L564.8 578.7L565.2 570.8L565.6 568.2L565.9 567.5L566.2 567.5L566.8 568L567.6 569.2L571.5 576.3L573.6 579.7L575.9 582.9L578.6 585.8L580.3 587.5L582.1 589L586.3 592.1L591.4 595.2L597 598.1L601.7 600.2L606.5 602L611.7 603.8L617.5 605.5L622.9 606.9L629.1 608.4L651.6 613.2L660.5 615.2L669.7 617.7L673.8 619.1L677.8 620.5" fill="none" stroke="#879bd6" stroke-width="1.35" stroke-linejoin="round" />
<path d="M564 600.8L564.8 582.6L565.2 574.6L565.6 572L565.9 571.4L566.2 571.3L566.8 571.8L567.6 573.1L571.5 580.1L573.6 583.6L575.9 586.8L578.6 589.7L580.3 591.3L582.1 592.9L586.3 595.9L591.4 599L597 601.9L601.7 604L606.5 605.9L611.7 607.7L617.5 609.4L622.9 610.8L629.1 612.3L651.6 617L660.5 619.1L669.7 621.6L673.8 622.9L677.8 624.3" fill="none" stroke="#879bd6" stroke-width="1.35" stroke-linejoin="round" />
<path d="M564 599L564.8 580.7L565.2 572.8L565.6 570.2L565.9 569.5L566.2 569.5L566.8 570L567.6 571.2L571.5 578.3L573.6 581.7L575.9 584.9L578.6 587.8L580.3 589.5L582.1 591L586.3 594.1L591.4 597.2L597 600.1L601.7 602.2L606.5 604L611.7 605.8L617.5 607.5L622.9 608.9L629.1 610.4L651.6 615.2L660.5 617.3L669.7 619.8L673.8 621.1L677.8 622.5" fill="none" stroke="#1d315e" stroke-width="2.6" stroke-linejoin="round" />
</g>
<g fill="none" stroke="#ff0000" stroke-width="2.0">
<circle cx="568" cy="576.6" r="2.9"/>
<circle cx="575.1" cy="577.7" r="2.9"/>
<circle cx="566.9" cy="580.5" r="2.9"/>
<circle cx="570.1" cy="582.4" r="2.9"/>
<circle cx="577.5" cy="584.8" r="2.9"/>
<circle cx="565.7" cy="592.1" r="2.9"/>
<circle cx="582.1" cy="592.9" r="2.9"/>
<circle cx="592.2" cy="598.7" r="2.9"/>
<circle cx="601.5" cy="596.5" r="2.9"/>
<circle cx="610.8" cy="597.9" r="2.9"/>
<circle cx="620.8" cy="600.7" r="2.9"/>
<circle cx="634.4" cy="604.8" r="2.9"/>
<circle cx="677.7" cy="614.9" r="2.9"/>
</g>
<g stroke="#1a1a1a" stroke-width="1.1" fill="none">
<path d="M563.5 535.3 V651.6" stroke-width="1.15"/>
<path d="M563 649.9 H678.5" stroke-width="1.5" stroke="#2b2b2b"/>
<path d="M563.5 649.9 V651.6"/>
<path d="M601.7 649.9 V651.6"/>
<path d="M639.8 649.9 V651.6"/>
<path d="M678 649.9 V651.6"/>
<path d="M562.6 649.5 H563.5"/>
<path d="M562.6 640.3 H563.5"/>
<path d="M562.6 634.9 H563.5"/>
<path d="M562.6 631 H563.5"/>
<path d="M562.6 628 H563.5"/>
<path d="M562.6 625.6 H563.5"/>
<path d="M562.6 623.6 H563.5"/>
<path d="M562.6 621.8 H563.5"/>
<path d="M562.6 620.2 H563.5"/>
<path d="M561.8 618.8 H563.5"/>
<path d="M562.6 609.6 H563.5"/>
<path d="M562.6 604.2 H563.5"/>
<path d="M562.6 600.3 H563.5"/>
<path d="M562.6 597.3 H563.5"/>
<path d="M562.6 594.9 H563.5"/>
<path d="M562.6 592.9 H563.5"/>
<path d="M562.6 591.1 H563.5"/>
<path d="M562.6 589.5 H563.5"/>
<path d="M561.8 588.1 H563.5"/>
<path d="M562.6 578.9 H563.5"/>
<path d="M562.6 573.5 H563.5"/>
<path d="M562.6 569.6 H563.5"/>
<path d="M562.6 566.6 H563.5"/>
<path d="M562.6 564.2 H563.5"/>
<path d="M562.6 562.2 H563.5"/>
<path d="M562.6 560.4 H563.5"/>
<path d="M562.6 558.8 H563.5"/>
<path d="M561.8 557.4 H563.5"/>
<path d="M562.6 548.2 H563.5"/>
<path d="M562.6 542.8 H563.5"/>
<path d="M562.6 538.9 H563.5"/>
<path d="M562.6 535.9 H563.5"/>
</g>
<g fill="#111" stroke="#111" stroke-width="0.3">
<text x="563.5" y="669.3" font-size="16" font-weight="normal" text-anchor="middle" >0</text>
<text x="601.7" y="669.3" font-size="16" font-weight="normal" text-anchor="middle" >8</text>
<text x="639.8" y="669.3" font-size="16" font-weight="normal" text-anchor="middle" >16</text>
<text x="678" y="669.3" font-size="16" font-weight="normal" text-anchor="middle" >24</text>
<text x="558" y="626.7" font-size="16" text-anchor="end">10<tspan font-size="13" dy="-8.2">0</tspan></text>
<text x="558" y="596" font-size="16" text-anchor="end">10<tspan font-size="13" dy="-8.2">1</tspan></text>
<text x="558" y="565.3" font-size="16" text-anchor="end">10<tspan font-size="13" dy="-8.2">2</tspan></text>
</g>
<g fill="#000" font-weight="bold" font-size="16">
<text x="35.2" y="12.7" text-anchor="middle">(a)</text>
<text x="390.2" y="12.7" text-anchor="middle">(b)</text>
<text x="35.2" y="510.7" text-anchor="middle">(c)</text>
<text x="390.2" y="510.7" text-anchor="middle">(d)</text>
<text x="187.4" y="441" text-anchor="middle">Time [h]</text>
<text x="542.4" y="441" text-anchor="middle">Time [h]</text>
<text x="187.4" y="938.9" text-anchor="middle">Time [h]</text>
<text x="542.4" y="938.9" text-anchor="middle">Time [h]</text>
<text transform="translate(12.6 213.9) rotate(-90)" text-anchor="middle" font-size="16.15">Midazolam concentration [ng/mL]</text>
<text transform="translate(367.6 213.9) rotate(-90)" text-anchor="middle" font-size="16.15">Midazolam concentration [ng/mL]</text>
<text transform="translate(12.6 711.9) rotate(-90)" text-anchor="middle" font-size="16.15">Midazolam concentration [ng/mL]</text>
<text transform="translate(367.6 711.9) rotate(-90)" text-anchor="middle" font-size="16.15">Midazolam concentration [ng/mL]</text>
</g>
</svg></body></html>
